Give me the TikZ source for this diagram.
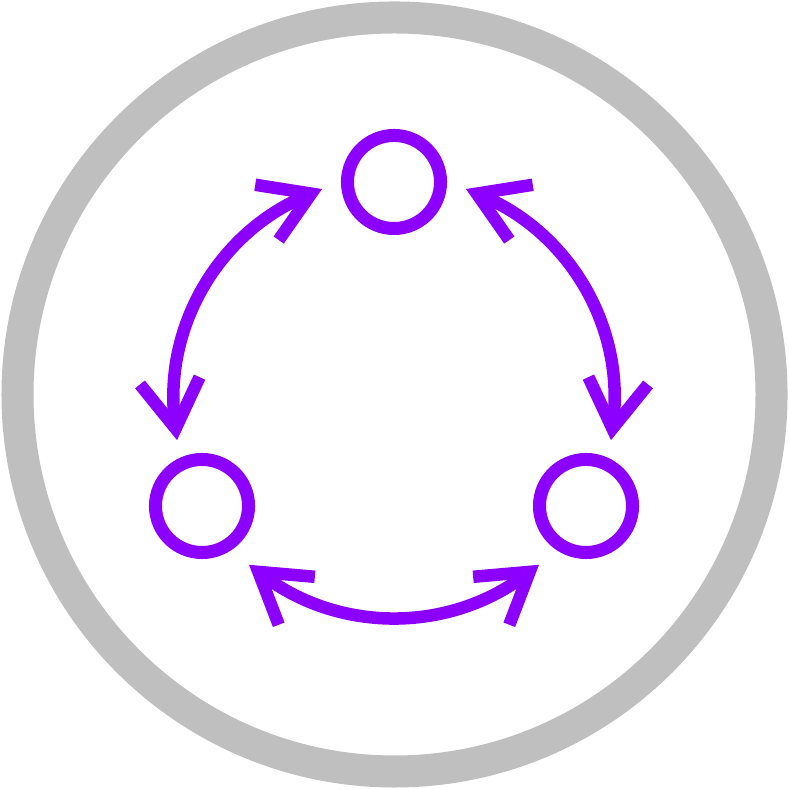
\documentclass[tikz,border=0pt]{standalone}
\usepackage{tikz}
\usetikzlibrary{arrows.meta,calc}
\usepackage{xcolor}
\definecolor{RingGray}{RGB}{191,191,191}
\definecolor{IconPurple}{RGB}{139,0,255}

\begin{document}
\begin{tikzpicture}[
  x=0.01cm, y=0.01cm,
  ring/.style={draw=RingGray, line width=3.2mm},
  dotbox/.style={circle, draw=IconPurple, line width=1.3mm, minimum size=9.3mm, inner sep=0pt},
  arrow/.style={<->, >={Straight Barb[sharp,length=4.8mm,width=6mm]}, line width=1.25mm, IconPurple}
]
\useasboundingbox (0,0) rectangle (789,789);
\draw[ring] (394.5,394.5) circle (377);

\node[dotbox] (c1) at (394,607) {};
\node[dotbox] (c2) at (202,283) {};
\node[dotbox] (c3) at (586,283) {};

\coordinate (m) at (394,391);
\coordinate (a1) at ($(m)+(109:221)$);
\coordinate (a2) at ($(m)+(191:221)$);
\coordinate (b1) at ($(m)+(229:221)$);
\coordinate (b2) at ($(m)+(311:221)$);
\coordinate (d1) at ($(m)+(349:221)$);
\coordinate (d2) at ($(m)+(71:221)$);

\draw[arrow] (a1) to[bend right=37] (a2);
\draw[arrow] (b1) to[bend right=37] (b2);
\draw[arrow] (d1) to[bend right=37] (d2);
\end{tikzpicture}
\end{document}
